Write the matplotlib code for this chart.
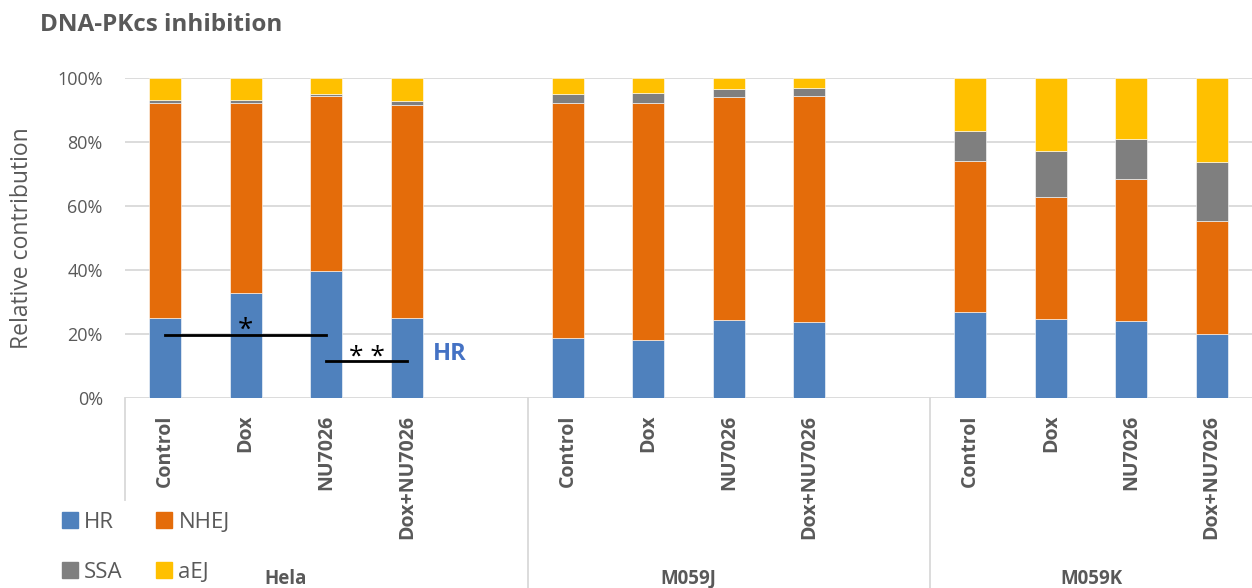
import matplotlib.pyplot as plt
from matplotlib.lines import Line2D
from matplotlib.patches import Patch
import matplotlib.transforms as mtransforms
import numpy as np

plt.rcParams['font.family'] = ['Open Sans', 'DejaVu Sans']

groups = ['Hela', 'M059J', 'M059K']
treatments = ['Control', 'Dox', 'NU7026', 'Dox+NU7026']

# percent contributions, order: Hela x4, M059J x4, M059K x4
hr = [25.0, 32.8, 39.7, 25.0, 18.7, 18.2, 24.5, 23.7, 27.0, 24.7, 24.0, 20.1]
nhej = [67.2, 59.4, 54.6, 66.5, 73.5, 74.0, 69.5, 70.8, 47.0, 38.1, 44.5, 35.3]
ssa = [1.0, 1.0, 0.8, 1.4, 2.9, 3.2, 2.6, 2.3, 9.3, 14.5, 12.4, 18.4]
aej = [6.8, 6.8, 4.9, 7.1, 4.9, 4.6, 3.4, 3.2, 16.7, 22.7, 19.1, 26.2]

series = [('HR', hr, '#4F81BD'), ('NHEJ', nhej, '#E46C0A'),
          ('SSA', ssa, '#7F7F7F'), ('aEJ', aej, '#FFC000')]

text_col = '#595959'

# bar slots: 4 bars per group, one empty slot between groups
pos = []
for g in range(len(groups)):
    for t in range(len(treatments)):
        pos.append(g * 5 + t)
pos = np.array(pos)

fig = plt.figure(figsize=(12.52, 5.88), dpi=100)
ax = fig.add_axes([125 / 1252, 1 - 398 / 588, 1127 / 1252, 320 / 588])

bottom = np.zeros(len(pos))
for name, vals, col in series:
    ax.bar(pos, vals, width=0.4, bottom=bottom, color=col, edgecolor='white',
           linewidth=0.4, zorder=3)
    bottom += np.array(vals)

ax.set_xlim(-0.5, 13.5)
ax.set_ylim(0, 100)
ax.set_yticks(np.arange(0, 101, 20))
ax.set_yticklabels([f'{v}%' for v in range(0, 101, 20)], fontsize=13, color=text_col)
ax.grid(axis='y', color='#D9D9D9', linewidth=1.3, zorder=0)
ax.set_axisbelow(True)
for s in ax.spines.values():
    s.set_visible(False)
ax.tick_params(axis='y', length=0, pad=16)
ax.tick_params(axis='x', length=0, pad=12)

ax.set_xticks(pos)
ax.set_xticklabels(treatments * len(groups), rotation=90, fontsize=14,
                   fontweight='bold', color=text_col, va='top')

ax.set_ylabel('Relative contribution', fontsize=16.5, color=text_col)
ax.yaxis.set_label_coords(-0.081, 0.5)

# group labels and separators below the axis
trans = mtransforms.blended_transform_factory(ax.transData, ax.transAxes)
for g, name in enumerate(groups):
    ax.text(g * 5 + 1.5, -0.565, name, transform=trans, ha='center', va='center',
            fontsize=13.5, fontweight='bold', color=text_col)
ax.add_line(Line2D([-0.5, -0.5], [0, -0.32], transform=trans, color='#D9D9D9',
                   linewidth=1.3, clip_on=False))
for xs in [4.5, 9.5]:
    ax.add_line(Line2D([xs, xs], [0, -0.6], transform=trans, color='#D9D9D9',
                       linewidth=1.3, clip_on=False))

# significance marks
ax.plot([0, 2], [19.7, 19.7], color='black', linewidth=2, zorder=5)
ax.text(1, 16.5, '*', ha='center', va='bottom', fontsize=20, color='black', zorder=5)
ax.plot([2, 3], [11.6, 11.6], color='black', linewidth=2, zorder=5)
ax.text(2.5, 8.6, '* *', ha='center', va='bottom', fontsize=19, color='black', zorder=5)
ax.text(3.33, 13.7, 'HR', ha='left', va='center', fontsize=17, fontweight='bold',
        color='#4472C4', zorder=5)

fig.text(40 / 1252, 1 - 25 / 588, 'DNA-PKcs inhibition', ha='left', va='center',
         fontsize=17.5, fontweight='bold', color=text_col)

handles = [Patch(color=series[0][2], label='HR'), Patch(color=series[2][2], label='SSA'),
           Patch(color=series[1][2], label='NHEJ'), Patch(color=series[3][2], label='aEJ')]
leg = fig.legend(handles=handles, ncol=2, loc='lower left',
                 bbox_to_anchor=(42 / 1252, -0.025), frameon=False, fontsize=16,
                 labelspacing=1.3, handlelength=0.7, handleheight=0.7,
                 handletextpad=0.3, columnspacing=1.5)
for t in leg.get_texts():
    t.set_color(text_col)

fig.savefig('out.png', dpi=100)
